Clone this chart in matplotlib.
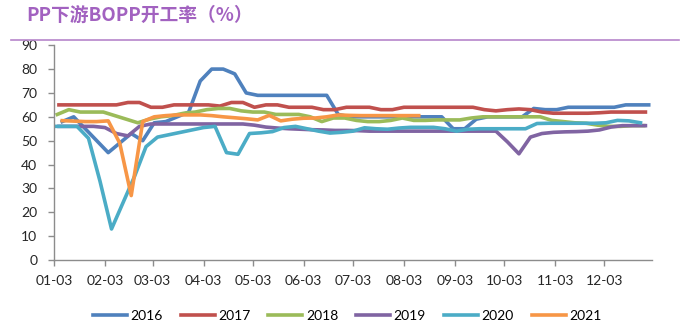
import numpy as np
import matplotlib
matplotlib.use('Agg')
import matplotlib.pyplot as plt
from matplotlib.lines import Line2D

plt.rcParams['font.family'] = ['Lato', 'Noto Sans CJK SC', 'DejaVu Sans']

# ---------------- weekly BOPP operating rate (%) per year ----------------
years = ['2016', '2017', '2018', '2019', '2020', '2021']
colors = ['#4F81BD', '#C0504D', '#9BBB59', '#8064A2', '#4BACC6', '#F79646']
start_offsets = [5, 3, 2, 3, 0, 5]   # days after 01-03 of the first weekly reading

rate_2016 = [58, 60, 55, 50, 45, 49, 53, 50, 57.5, 58, 60, 62, 75, 80, 80, 78, 70, 69,
             69, 69, 69, 69, 69, 69, 61, 60, 60, 60, 60, 60, 60, 60, 60, 60, 55, 55,
             59, 60, 60, 60, 60, 63.5, 63, 63, 64, 64, 64, 64, 64, 65, 65, 65]
rate_2017 = [65, 65, 65, 65, 65, 65, 66, 66, 64, 64, 65, 65, 65, 65, 64.5, 66, 66, 64,
             65, 65, 64, 64, 64, 63, 63, 64, 64, 64, 63, 63, 64, 64, 64, 64, 64, 64,
             64, 63, 62.5, 63, 63.3, 63, 62, 61.5, 61.5, 61.5, 61.5, 61.7, 62, 62, 62, 62]
rate_2018 = [61, 63, 62, 62, 62, 60.5, 59, 57.5, 59, 60, 60.5, 61.5, 62, 63, 63.5, 63.5,
             62.5, 62, 62, 61, 61, 61, 60, 58, 59.5, 59.5, 58.5, 58, 58, 58.5, 59.5, 58.5,
             58.5, 58.7, 58.7, 58.7, 59.5, 60, 60, 60, 60, 60, 60, 58.5, 58, 57.5, 57.3,
             56.5, 56, 56, 56.3, 56.3]
rate_2019 = [56, 56, 56, 56, 55.5, 53, 52, 56, 57, 57, 57, 57, 57, 57, 57, 57, 57, 56.5,
             55.7, 55.3, 55, 54.8, 54.6, 54.5, 54.3, 54.3, 54.2, 54, 54, 54, 54, 54, 54,
             54, 54, 54, 54, 54, 54, 49.5, 44.5, 51.5, 53, 53.5, 53.7, 53.8, 54, 54.5,
             55.7, 56.3, 56.3, 56.3]
rate_2020 = [56, 56, 56, 51, 33, 13, 24, 35, 47.5, 51.5, 52.5, 53.5, 54.5, 55.5, 56, 45,
             44.3, 53, 53.3, 53.8, 55.5, 56, 55, 54, 53.2, 53.5, 54, 55.4, 55, 54.8, 55.3,
             55.6, 55.6, 55.6, 55, 54, 54.8, 55, 55, 55, 55, 55, 57.2, 57.3, 57.3, 57.3,
             57.3, 57.3, 57.5, 58.5, 58.3, 57.5]
rate_2021 = [58.4, 58.2, 58, 58, 58.3, 49, 27, 58, 60, 60.5, 60.8, 60.8, 60.8, 60.5, 60,
             59.6, 59.2, 58.7, 60.6, 58.3, 59, 59.4, 59.5, 60, 60.8, 60.6, 60.5, 60.5,
             60.5, 60.5, 60.5, 60.5]
series = [rate_2016, rate_2017, rate_2018, rate_2019, rate_2020, rate_2021]

month_labels = ['01-03', '02-03', '03-03', '04-03', '05-03', '06-03',
                '07-03', '08-03', '09-03', '10-03', '11-03', '12-03']
y_ticks = list(range(0, 91, 10))

# all years are laid on one (leap-year) calendar so the weeks line up by date
base = np.datetime64('2016-01-03')
week = np.timedelta64(7, 'D')

fig = plt.figure(figsize=(6.82, 3.23), dpi=100)
ax = fig.add_axes([0.0792, 0.195, 0.8768, 0.665])

for vals, off, col, yr in zip(series, start_offsets, colors, years):
    x = base + np.timedelta64(off, 'D') + np.arange(len(vals)) * week
    ax.plot(x, vals, color=col, lw=2.6, label=yr, solid_joinstyle='round')

ax.set_xlim(base, base + np.timedelta64(364, 'D'))
ax.set_ylim(0, 90)
tick_dates = [np.datetime64('2016-' + lab) for lab in month_labels]
ax.set_xticks(tick_dates, month_labels)
ax.set_yticks(y_ticks)

for s in ['top', 'right']:
    ax.spines[s].set_visible(False)
for s in ['left', 'bottom']:
    ax.spines[s].set_color('#8c8c8c')
    ax.spines[s].set_linewidth(1.0)
ax.tick_params(axis='both', direction='out', length=4, width=1.0, color='#8c8c8c',
               labelsize=10, labelcolor='#262626')
ax.tick_params(axis='y', pad=8)
ax.tick_params(axis='x', pad=7)

# title and divider
fig.text(0.038, 0.954, 'PP下游BOPP开工率（%）', fontsize=13.5, fontweight='bold',
         color='#A262C0', family=['Noto Sans CJK SC'], va='center', ha='left')
fig.add_artist(Line2D([0.016, 0.995], [0.876, 0.876], color='#B685CB', lw=1.2))

handles, labels = ax.get_legend_handles_labels()
fig.legend(handles, labels, loc='center', bbox_to_anchor=(0.509, 0.0217), ncol=6,
           frameon=False, handlelength=2.45, handletextpad=0.25, columnspacing=1.3,
           fontsize=10, borderaxespad=0, borderpad=0)

fig.savefig('out.png', dpi=100)
